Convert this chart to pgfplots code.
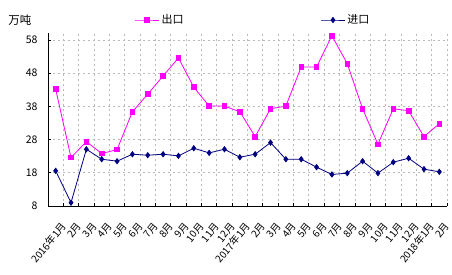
\documentclass[border=0pt]{standalone}
\usepackage{fontspec}
\setmainfont{Noto Sans CJK SC}
\usepackage{pgfplots}
\pgfplotsset{compat=1.18}
\definecolor{expc}{RGB}{255,0,255}
\definecolor{impc}{RGB}{0,0,128}
\definecolor{gridc}{RGB}{185,185,185}
\begin{document}
\begin{tikzpicture}
\begin{axis}[
  at={(0,0)}, anchor=south west,
  scale only axis, width=399pt, height=172.6pt,
  xmin=-0.5, xmax=25.5, ymin=8, ymax=60,
  axis x line=bottom, axis y line=left,
  axis line style={-, line width=1pt},
  clip=false,
  ytick={8,18,...,58},
  xtick={0,...,25},
  xticklabels={2016年1月,2月,3月,4月,5月,6月,7月,8月,9月,10月,11月,12月,2017年1月,2月,3月,4月,5月,6月,7月,8月,9月,10月,11月,12月,2018年1月,2月},
  minor xtick={0.5,1.5,...,25.5},
  xminorgrids, ymajorgrids,
  major grid style={gridc, dash pattern=on 2pt off 3pt, line width=0.8pt},
  minor grid style={gridc, dash pattern=on 2pt off 3pt, line width=0.8pt},
  major x tick style={draw=none},
  tick align=inside, major tick length=3pt, minor tick length=3pt,
  tick style={black, line width=0.8pt},
  /pgf/number format/assume math mode=true,
  yticklabel style={font=\fontsize{10.5}{12}\selectfont, xshift=-7pt},
  xticklabel style={rotate=51, anchor=east, font=\fontsize{10}{11}\selectfont, inner sep=1pt, xshift=-8pt, yshift=-18pt},
  legend columns=2,
  legend style={draw=none, fill=none, at={(0.514,1)}, anchor=center, yshift=13.4pt,
    font=\fontsize{11}{12}\selectfont, /tikz/every even column/.append style={column sep=135pt}},
  legend image code/.code={\draw[mark repeat=2,mark phase=2] plot coordinates {(0pt,0pt) (12pt,0pt) (24pt,0pt)};},
]
\addplot[expc, line width=0.8pt, mark=square*, mark size=2.3pt, mark options={solid}] coordinates {
(0,43.2)(1,22.6)(2,27.4)(3,23.8)(4,25.0)(5,36.4)(6,41.7)(7,47.2)(8,52.6)(9,43.8)(10,38.1)(11,38.1)(12,36.4)(13,28.9)(14,37.3)(15,38.1)(16,49.9)(17,49.9)(18,59.3)(19,50.9)(20,37.3)(21,26.6)(22,37.3)(23,36.7)(24,28.9)(25,32.8)};
\addlegendentry{出口}
\addplot[impc, line width=0.8pt, mark=diamond*, mark size=2.6pt, mark options={solid}] coordinates {
(0,18.6)(1,9.0)(2,25.1)(3,22.1)(4,21.5)(5,23.6)(6,23.3)(7,23.6)(8,23.1)(9,25.4)(10,24.0)(11,25.1)(12,22.7)(13,23.6)(14,27.1)(15,22.1)(16,22.1)(17,19.7)(18,17.5)(19,17.9)(20,21.5)(21,17.9)(22,21.2)(23,22.4)(24,19.1)(25,18.3)};
\addlegendentry{进口}
\node[font=\fontsize{11.5}{12}\selectfont] at (rel axis cs:0,1) [xshift=-28pt, yshift=13.4pt] {万吨};
\end{axis}
\pgfresetboundingbox
\path (-48pt,-68pt) rectangle (404pt,206pt);
\end{tikzpicture}
\end{document}
